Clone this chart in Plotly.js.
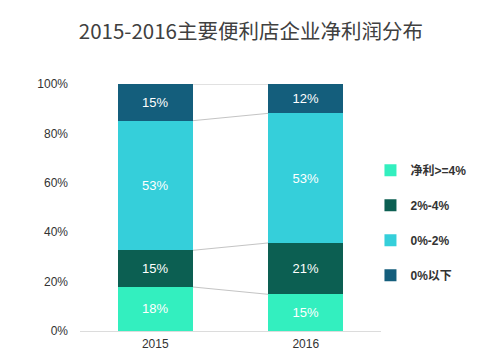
<!DOCTYPE html>
<html>
<head>
<meta charset="utf-8">
<script src="https://cdn.plot.ly/plotly-3.0.1.min.js"></script>
<style>html,body{margin:0;padding:0;background:#fff;}#chart{width:477px;height:353px;}</style>
</head>
<body>
<div id="chart"></div>
<script>
var years = ['2015', '2016'];
var seriesNames = ['净利>=4%', '2%-4%', '0%-2%', '0%以下'];
var s1 = [18, 15];   // 净利>=4%
var s2 = [15, 21];   // 2%-4%
var s3 = [53, 53];   // 0%-2%
var s4 = [15, 12];   // 0%以下
var yTickVals = [0, 20, 40, 60, 80, 100];
var yTickText = ['0%', '20%', '40%', '60%', '80%', '100%'];
var colors = ['#33efbf', '#0c5f52', '#35cfda', '#145e7c'];

var allSeries = [s1, s2, s3, s4];
var fontFam = 'Liberation Sans, Arial, Noto Sans CJK SC, sans-serif';

var traces = allSeries.map(function (vals, i) {
  return {
    type: 'bar',
    x: years,
    y: vals,
    name: seriesNames[i],
    legendgroup: 'g' + i,
    marker: {color: colors[i], line: {width: 0}},
    text: vals.map(function (v) { return v + '%'; }),
    textposition: 'inside',
    insidetextanchor: 'middle',
    textfont: {color: '#ffffff', size: 13, family: fontFam},
    hoverinfo: 'skip'
  };
});

// connector lines between the bars at each stack boundary (normalized like barnorm)
var totals = years.map(function (_, j) {
  return allSeries.reduce(function (a, s) { return a + s[j]; }, 0);
});
var shapes = [];
var cum = [0, 0];
for (var i = 0; i < allSeries.length; i++) {
  cum = cum.map(function (c, j) { return c + allSeries[i][j]; });
  shapes.push({
    type: 'line', xref: 'x', yref: 'y',
    x0: 0.25, x1: 0.75,
    y0: cum[0] / totals[0] * 100, y1: cum[1] / totals[1] * 100,
    line: {color: '#c4c4c4', width: 1},
    layer: 'below'
  });
}

var layout = {
  width: 477, height: 353,
  margin: {l: 80, r: 96, t: 84, b: 22, autoexpand: false},
  paper_bgcolor: '#ffffff', plot_bgcolor: '#ffffff',
  barmode: 'stack',
  barnorm: 'percent',
  bargap: 0.5,
  title: {
    text: '2015-2016主要便利店企业净利润分布',
    x: 0.526, xanchor: 'center', y: 0.91, yanchor: 'middle',
    font: {family: 'Noto Sans CJK SC, sans-serif', size: 20.5, color: '#404040'}
  },
  xaxis: {
    type: 'category',
    showgrid: false, zeroline: false,
    showline: true, linecolor: '#dcdcdc', linewidth: 1,
    ticks: '',
    tickfont: {family: fontFam, size: 12, color: '#333333'},
    ticklabelstandoff: 2,
    fixedrange: true
  },
  yaxis: {
    range: [0, 100],
    tickmode: 'array',
    tickvals: yTickVals,
    ticktext: yTickText,
    showgrid: false, zeroline: false, showline: false,
    ticks: '',
    ticklabelstandoff: 11,
    tickfont: {family: fontFam, size: 12, color: '#333333'},
    fixedrange: true
  },
  shapes: shapes,
  showlegend: true,
  legend: {
    x: 0.965, xanchor: 'left', y: 0.71, yanchor: 'top',
    traceorder: 'grouped',
    tracegroupgap: 16,
    itemwidth: 30,
    font: {family: fontFam, size: 12, color: '#333333', weight: 'bold'},
    bgcolor: 'rgba(0,0,0,0)'
  }
};

Plotly.newPlot('chart', traces, layout, {displayModeBar: false, staticPlot: true});
</script>
</body>
</html>
